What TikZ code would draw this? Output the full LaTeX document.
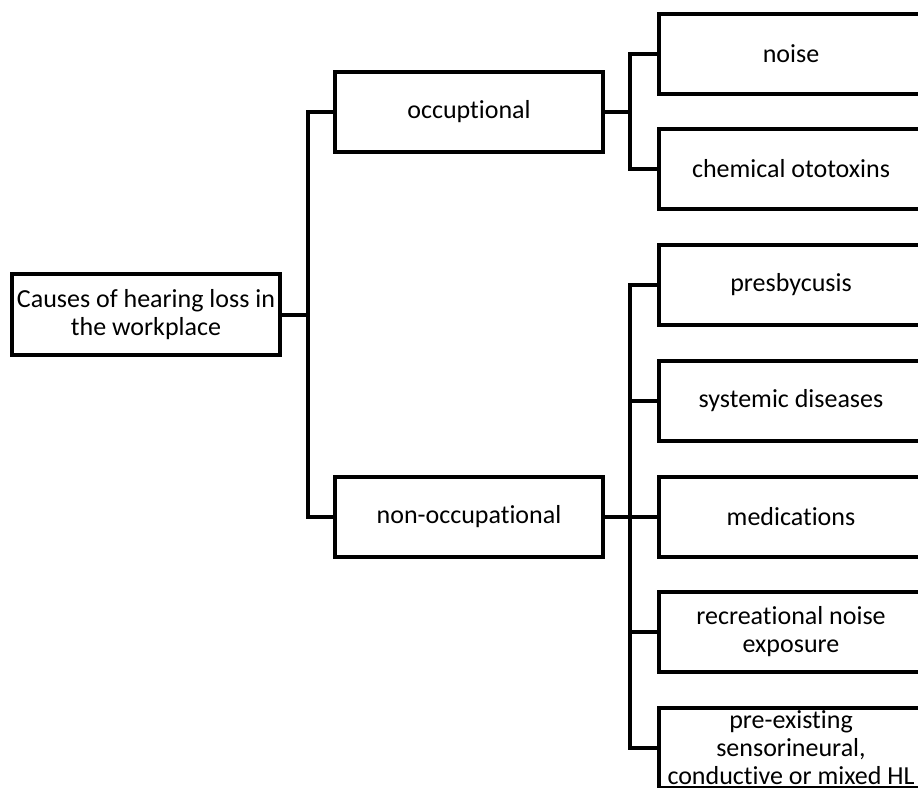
\documentclass[tikz,border=0pt]{standalone}
\usepackage{fontspec}
\setmainfont{Carlito}[Ligatures=NoCommon]
\begin{document}
\begin{tikzpicture}[x=1pt,y=-1pt,
  box/.style={draw=black,line width=4pt,rectangle,inner sep=0pt,align=center,
    minimum height=80pt,font=\fontsize{26}{28}\selectfont},
  midbox/.style={box,minimum width=268pt},
  leafbox/.style={box,minimum width=264pt},
  conn/.style={line width=4pt,draw=black}]
\useasboundingbox (0,0) rectangle (918,787);
\clip (0,0) rectangle (918,787);
\node[midbox,minimum height=81pt] (root) at (146,314.5) {Causes of hearing loss in\\the workplace};
\node[midbox] (occ) at (469,112) {occuptional};
\node[midbox] (non) at (469,516.5) {non-occupational};
\node[leafbox] (noise) at (791,54) {noise};
\node[leafbox] (chem) at (791,169) {chemical ototoxins};
\node[leafbox] (pres) at (791,285) {presbycusis};
\node[leafbox] (sys) at (791,401) {systemic diseases};
\node[leafbox] (med) at (791,516.5) {medications};
\node[leafbox] (rec) at (791,632) {recreational noise\\exposure};
\node[leafbox] (pre) at (791,748) {pre-existing\\sensorineural,\\conductive or mixed HL};
\coordinate (t1) at (308,314.5);
\coordinate (t2) at (630,112);
\coordinate (t3) at (630,516.5);
\draw[conn] (root.east) -- (t1);
\draw[conn] (occ.west) -| (t1) |- (non.west);
\draw[conn] (occ.east) -- (t2);
\draw[conn] (noise.west) -| (t2) |- (chem.west);
\draw[conn] (non.east) -- (med.west);
\draw[conn] (pres.west) -| (t3) |- (pre.west);
\draw[conn] (sys.west) -- (sys.west -| t3);
\draw[conn] (rec.west) -- (rec.west -| t3);
\end{tikzpicture}
\end{document}
